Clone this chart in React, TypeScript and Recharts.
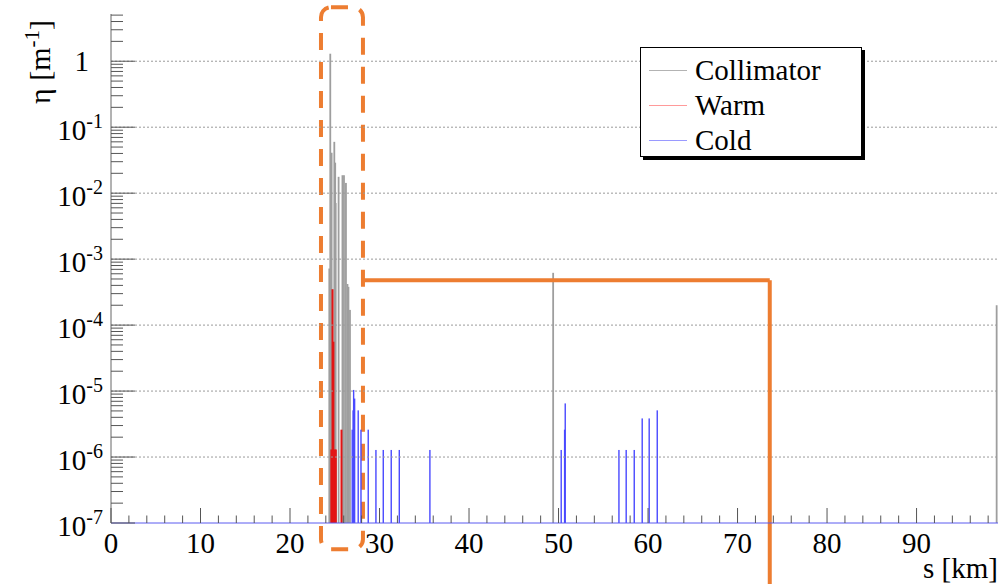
import React from "react";
import {
  ComposedChart,
  Bar,
  XAxis,
  YAxis,
  ReferenceLine,
  ReferenceArea,
} from "recharts";

// loss map: s in km, eta in 1/m
const collimatorS = [24.39, 24.5, 24.65, 24.95, 25.05, 25.1, 25.43, 25.86, 26.03, 26.25, 26.42, 26.53, 26.7, 49.4, 98.95];
const collimatorEta = [7.2e-4, 1.3, 0.041, 0.06, 0.029, 0.0071, 0.0177, 0.0187, 0.0187, 0.0143, 4.2e-4, 3.8e-4, 1.7e-4, 6.2e-4, 2e-4];

const warmS = [24.62, 24.75, 24.85, 25.0, 25.12, 25.75];
const warmEta = [1.3e-6, 3.5e-4, 5.6e-5, 1.3e-6, 1.3e-6, 2.6e-6];

const coldS = [26.95, 27.05, 27.11, 27.22, 27.62, 27.93, 28.74, 29.6, 30.42, 31.31, 32.21, 35.63, 50.3, 50.68, 50.75, 56.75, 57.56, 58.46, 59.35, 60.13, 61.03];
const coldEta = [2.6e-6, 5.1e-6, 1.04e-5, 7.7e-6, 5.1e-6, 2.6e-6, 2.6e-6, 1.28e-6, 1.28e-6, 1.28e-6, 1.28e-6, 1.28e-6, 1.28e-6, 2.6e-6, 6.5e-6, 1.28e-6, 1.28e-6, 1.28e-6, 3.85e-6, 3.85e-6, 5.1e-6];

const xTicks = [0, 2, 4, 6, 8, 10, 12, 14, 16, 18, 20, 22, 24, 26, 28, 30, 32, 34, 36, 38, 40, 42, 44, 46, 48, 50, 52, 54, 56, 58, 60, 62, 64, 66, 68, 70, 72, 74, 76, 78, 80, 82, 84, 86, 88, 90, 92, 94, 96, 98];
const yDecades = [1e-7, 1e-6, 1e-5, 1e-4, 1e-3, 1e-2, 1e-1, 1];
const yMinorSteps = [2, 3, 4, 5, 6, 7, 8, 9];

const X_DOMAIN: [number, number] = [0, 99.1];
const Y_DOMAIN: [number, number] = [1e-7, 5.2];
const FONT = "'Liberation Serif', 'Times New Roman', serif";
const ORANGE = "#ED7D31";

const yTicks: number[] = [];
yDecades.forEach((d) => {
  yTicks.push(d);
  yMinorSteps.forEach((k) => {
    if (k * d < Y_DOMAIN[1]) yTicks.push(k * d);
  });
});

// merge the three histograms into one table keyed by s
const rows = new Map<number, any>();
const put = (s: number[], v: number[], key: string) => {
  s.forEach((x, i) => {
    const r = rows.get(x) ?? { s: x };
    r[key] = v[i];
    rows.set(x, r);
  });
};
put(collimatorS, collimatorEta, "collimator");
put(warmS, warmEta, "warm");
put(coldS, coldEta, "cold");
const data = Array.from(rows.values()).sort((a, b) => a.s - b.s);

const isMajor = (v: number) =>
  Math.abs(Math.log10(v) - Math.round(Math.log10(v))) < 1e-6;

const spike = (fill: string, w: number) => (p: any) => {
  if (!(p.height > 0) || !isFinite(p.x)) return <g />;
  return (
    <rect x={p.x + p.width / 2 - w / 2} y={p.y} width={w} height={p.height} fill={fill} />
  );
};

const XTick = (props: any) => {
  const { x, y, payload } = props;
  const v = payload.value;
  const major = v % 10 === 0;
  return (
    <g>
      <line x1={x} x2={x} y1={y} y2={y - (major ? 15 : 7.5)} stroke="#555" />
      {major && v < 98 && (
        <text x={x} y={y + 30} textAnchor="middle" fontSize={29} fontFamily={FONT} fill="#000">
          {v}
        </text>
      )}
    </g>
  );
};

const YTickLeft = (props: any) => {
  const { x, y, payload } = props;
  const v = payload.value;
  const major = isMajor(v);
  const exp = Math.round(Math.log10(v));
  return (
    <g>
      <line x1={x} x2={x + (major ? 24 : 12)} y1={y} y2={y} stroke="#555" />
      {major &&
        (exp === 0 ? (
          <text x={x - 22} y={y + 10} textAnchor="end" fontSize={29} fontFamily={FONT} fill="#000">
            1
          </text>
        ) : (
          <text x={x - 8} y={y + 13} textAnchor="end" fontSize={29} fontFamily={FONT} fill="#000">
            10
            <tspan dy={-12} fontSize={20}>
              {exp}
            </tspan>
          </text>
        ))}
    </g>
  );
};

const YTickRight = (props: any) => {
  const { x, y, payload } = props;
  const major = isMajor(payload.value);
  return <line x1={x} x2={x - (major ? 24 : 12)} y1={y} y2={y} stroke="#555" />;
};

const legendItems = [
  { name: "Collimator", color: "#b3b3b3" },
  { name: "Warm", color: "#ff9a9a" },
  { name: "Cold", color: "#9a9aff" },
];

export default function App() {
  return (
    <div style={{ position: "absolute", left: 0, top: 0, width: 1008, height: 584, background: "#fff" }}>
      <ComposedChart
        width={1008}
        height={584}
        data={data}
        margin={{ top: 14, right: 10, left: 0, bottom: 0 }}
      >
        <XAxis
          xAxisId="main"
          dataKey="s"
          type="number"
          domain={X_DOMAIN}
          allowDataOverflow
          ticks={xTicks}
          interval={0}
          height={61}
          tickSize={0}
          tickMargin={0}
          tickLine={false}
          tick={<XTick />}
          axisLine={{ stroke: "#5b5bf0" }}
        />
        <XAxis
          xAxisId="top"
          orientation="top"
          type="number"
          domain={X_DOMAIN}
          allowDataOverflow
          height={0}
          tick={false}
          tickLine={false}
          axisLine={{ stroke: "#555" }}
        />
        <XAxis xAxisId="col" dataKey="s" type="number" domain={X_DOMAIN} allowDataOverflow height={0} hide />
        <XAxis xAxisId="warm" dataKey="s" type="number" domain={X_DOMAIN} allowDataOverflow height={0} hide />
        <YAxis
          yAxisId="left"
          scale="log"
          type="number"
          domain={Y_DOMAIN}
          allowDataOverflow
          ticks={yTicks}
          interval={0}
          width={111}
          tickSize={0}
          tickMargin={0}
          tickLine={false}
          tick={<YTickLeft />}
          axisLine={{ stroke: "#666" }}
        />
        <YAxis
          yAxisId="right"
          orientation="right"
          scale="log"
          type="number"
          domain={Y_DOMAIN}
          allowDataOverflow
          ticks={yTicks}
          interval={0}
          width={0}
          tickSize={0}
          tickMargin={0}
          tickLine={false}
          tick={<YTickRight />}
          axisLine={{ stroke: "#555" }}
        />

        {yDecades.slice(1).map((v) => (
          <ReferenceLine
            key={v}
            xAxisId="main"
            yAxisId="left"
            y={v}
            stroke="#9a9a9a"
            strokeDasharray="2 2"
          />
        ))}

        <Bar
          xAxisId="col"
          yAxisId="left"
          dataKey="collimator"
          barSize={2}
          shape={spike("#9e9e9e", 1.8)}
          isAnimationActive={false}
        />
        <Bar
          xAxisId="warm"
          yAxisId="left"
          dataKey="warm"
          barSize={2}
          shape={spike("#e31414", 2)}
          isAnimationActive={false}
        />
        <Bar
          xAxisId="main"
          yAxisId="left"
          dataKey="cold"
          barSize={2}
          shape={spike("#4a4aff", 1.4)}
          isAnimationActive={false}
        />

        <ReferenceArea
          xAxisId="main"
          yAxisId="left"
          x1={23.46}
          x2={28.15}
          y1={4.0e-8}
          y2={6.58}
          ifOverflow="visible"
          shape={(p: any) => (
            <rect
              x={p.x}
              y={p.y}
              width={p.width}
              height={p.height}
              rx={10}
              fill="none"
              stroke={ORANGE}
              strokeWidth={4}
              strokeDasharray="17 12"
            />
          )}
        />
        <ReferenceLine
          xAxisId="main"
          yAxisId="left"
          segment={[
            { x: 28.15, y: 4.8e-4 },
            { x: 73.6, y: 4.8e-4 },
          ]}
          stroke={ORANGE}
          strokeWidth={4}
          ifOverflow="visible"
        />
        <ReferenceLine
          xAxisId="main"
          yAxisId="left"
          segment={[
            { x: 73.6, y: 4.8e-4 },
            { x: 73.6, y: 1e-8 },
          ]}
          stroke={ORANGE}
          strokeWidth={4}
          ifOverflow="visible"
        />
      </ComposedChart>

      <svg
        width={1008}
        height={584}
        style={{ position: "absolute", left: 0, top: 0, pointerEvents: "none" }}
      >
        <text
          transform="translate(50,62) rotate(-90)"
          textAnchor="middle"
          fontSize={30}
          fontFamily={FONT}
          fill="#000"
        >
          η [m
          <tspan dy={-11} fontSize={21}>
            -1
          </tspan>
          <tspan dy={11}>]</tspan>
        </text>
        <text x={998} y={578} textAnchor="end" fontSize={29} fontFamily={FONT} fill="#000">
          s [km]
        </text>
      </svg>

      <div
        style={{
          position: "absolute",
          left: 640,
          top: 47,
          width: 220,
          height: 108,
          border: "1px solid #000",
          boxShadow: "3px 3px 0 #000",
          background: "#fff",
          fontFamily: FONT,
          fontSize: 29,
        }}
      >
        {legendItems.map((it, i) => (
          <div
            key={it.name}
            style={{ position: "absolute", left: 0, top: 5 + i * 35, height: 34, display: "flex", alignItems: "center" }}
          >
            <div style={{ width: 38, height: 0, borderTop: `1.5px solid ${it.color}`, marginLeft: 8, marginRight: 8 }} />
            <span>{it.name}</span>
          </div>
        ))}
      </div>
    </div>
  );
}
